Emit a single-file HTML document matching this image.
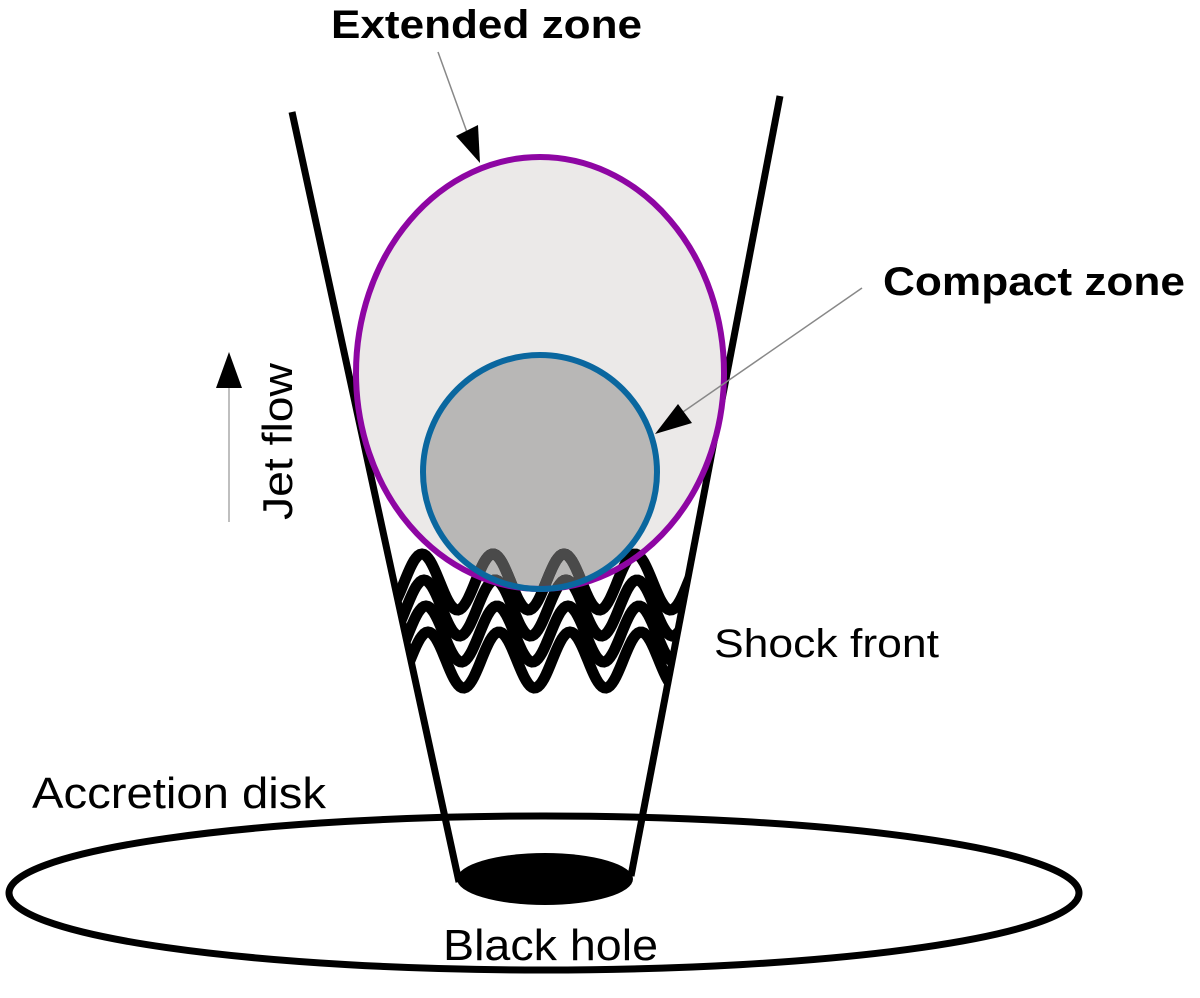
<!DOCTYPE html>
<html><head><meta charset="utf-8"><style>
html,body{margin:0;padding:0;background:#fff}
svg{display:block}
text{font-family:"Liberation Sans",sans-serif;fill:#000}
</style></head><body>
<svg id="s" width="1200" height="998" viewBox="0 0 1200 998" xmlns="http://www.w3.org/2000/svg">
<defs>
<clipPath id="jet"><polygon points="292,112 780,96 632,872 458,880"/></clipPath>
<clipPath id="cc"><circle cx="540" cy="472" r="115"/></clipPath>
</defs>
<ellipse cx="544" cy="893" rx="535" ry="77" fill="none" stroke="#000" stroke-width="7"/>
<ellipse cx="545" cy="879" rx="88" ry="26" fill="#000"/>
<line x1="292" y1="112" x2="459" y2="882" stroke="#000" stroke-width="7"/>
<line x1="780" y1="96" x2="631" y2="876" stroke="#000" stroke-width="7"/>
<ellipse cx="540" cy="373" rx="184" ry="216" fill="#ebe9e8"/>
<circle cx="540" cy="472" r="117" fill="#b8b7b6"/>
<g id="waves" clip-path="url(#jet)" fill="none" stroke="#000" stroke-width="11" stroke-linecap="round"></g>
<g id="wavesg" clip-path="url(#cc)" fill="none" stroke="#4a4a4a" stroke-width="11" stroke-linecap="round"></g>
<ellipse cx="540" cy="373" rx="184" ry="216" fill="none" stroke="#8e06a3" stroke-width="6"/>
<circle cx="540" cy="472" r="117" fill="none" stroke="#0a679f" stroke-width="6"/>
<line x1="438" y1="52" x2="468" y2="135" stroke="#888" stroke-width="1.5"/>
<polygon points="480,163 456,136 478,125" fill="#000"/>
<line x1="862" y1="288" x2="680" y2="414" stroke="#888" stroke-width="1.5"/>
<polygon points="655,434 692,423 678,404" fill="#000"/>
<line x1="229" y1="522" x2="229" y2="385" stroke="#aaa" stroke-width="1.5"/>
<polygon points="229,352 216,388 242,388" fill="#000"/>
<text x="331" y="38" font-size="40" font-weight="bold" textLength="311" lengthAdjust="spacingAndGlyphs">Extended zone</text>
<text x="883" y="295" font-size="40" font-weight="bold" textLength="302" lengthAdjust="spacingAndGlyphs">Compact zone</text>
<text transform="translate(292,520) rotate(-90)" font-size="42" textLength="157" lengthAdjust="spacingAndGlyphs">Jet flow</text>
<text x="714" y="657" font-size="40" textLength="225" lengthAdjust="spacingAndGlyphs">Shock front</text>
<text x="32" y="808" font-size="44" textLength="294" lengthAdjust="spacingAndGlyphs">Accretion disk</text>
<text x="443" y="960" font-size="44" textLength="215" lengthAdjust="spacingAndGlyphs">Black hole</text>
</svg>
<script>
var ns="http://www.w3.org/2000/svg";
var g=document.getElementById('waves'),g2=document.getElementById('wavesg');
for(var i=0;i<4;i++){
  var cy=582+26*i,A=28,x0=422+2*i,P=71,d="";
  for(var x=396;x<=692;x+=2){
    var y=cy-A*Math.cos(2*Math.PI*(x-x0)/P);
    d+=(x==396?"M":"L")+x+","+y.toFixed(1);
  }
  [g,g2].forEach(function(p){var e=document.createElementNS(ns,'path');e.setAttribute('d',d);p.appendChild(e);});
}
</script>
</body></html>
